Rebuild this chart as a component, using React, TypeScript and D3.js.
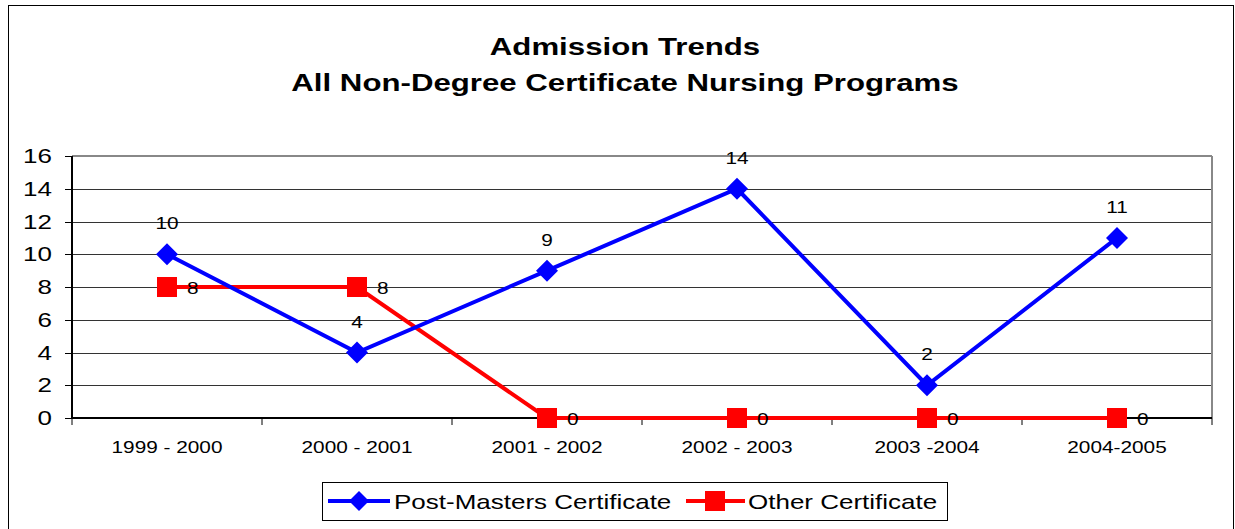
import React from 'react';
import * as d3 from 'd3';

const categories = ['1999 - 2000', '2000 - 2001', '2001 - 2002', '2002 - 2003', '2003 -2004', '2004-2005'];
const postMasters = [10, 4, 9, 14, 2, 11];
const otherCert = [8, 8, 0, 0, 0, 0];
const yTicks = [0, 2, 4, 6, 8, 10, 12, 14, 16];

const W = 1235;
const H = 529;
const plot = { left: 72, right: 1212, top: 156, bottom: 418 };
const font = 'Liberation Sans, Arial, sans-serif';
const stretch = 1.3; // the source text is drawn wide

const x = d3.scaleBand<string>().domain(categories).range([plot.left, plot.right]);
const y = d3.scaleLinear().domain([0, 16]).range([plot.bottom, plot.top]);
const cx = (c: string) => (x(c) as number) + x.bandwidth() / 2;

const line = d3.line<number>()
  .x((d, i) => cx(categories[i]))
  .y(d => y(d));

const diamond = (px: number, py: number, r: number) =>
  `M${px},${py - r}L${px + r},${py}L${px},${py + r}L${px - r},${py}Z`;

// wide text
function T(props: { x: number; y: number; size: number; anchor?: string; bold?: boolean; children: any }) {
  return (
    <text
      transform={`translate(${props.x},${props.y}) scale(${stretch},1)`}
      textAnchor={props.anchor || 'start'}
      fontSize={props.size}
      fontWeight={props.bold ? 'bold' : 'normal'}
    >
      {props.children}
    </text>
  );
}

export default function App() {
  return (
    <svg width={W} height={H} style={{ position: 'absolute', left: 0, top: 0 }} fontFamily={font}>
      <rect x={0} y={0} width={W} height={H} fill="#fff" />
      <rect x={8.5} y={5.5} width={1225} height={H} fill="none" stroke="#000" strokeWidth={1} />

      <T x={625} y={55} size={24} anchor="middle" bold>Admission Trends</T>
      <T x={625} y={91} size={24} anchor="middle" bold>All Non-Degree Certificate Nursing Programs</T>

      {/* grid */}
      {yTicks.map(t => (
        <g key={t}>
          {t > 0 && t < 16 && (
            <line x1={plot.left} x2={plot.right} y1={Math.round(y(t)) + 0.5} y2={Math.round(y(t)) + 0.5} stroke="#333" />
          )}
          <line x1={plot.left - 7} x2={plot.left} y1={Math.round(y(t)) + 0.5} y2={Math.round(y(t)) + 0.5} stroke="#000" />
          <T x={52} y={y(t) + 7} size={20} anchor="end">{t}</T>
        </g>
      ))}
      <line x1={plot.left} x2={plot.right} y1={plot.top} y2={plot.top} stroke="#888" strokeWidth={2} />
      <line x1={plot.right} x2={plot.right} y1={plot.top} y2={plot.bottom} stroke="#888" strokeWidth={2} />
      <line x1={plot.left} x2={plot.left} y1={plot.top} y2={plot.bottom} stroke="#000" strokeWidth={2} />
      <line x1={plot.left} x2={plot.right} y1={plot.bottom} y2={plot.bottom} stroke="#000" strokeWidth={2} />

      {/* x ticks */}
      {categories.concat(['end']).map((c, i) => {
        const px = i < categories.length ? (x(c) as number) : plot.right;
        return <line key={c} x1={px} x2={px} y1={plot.bottom} y2={plot.bottom + 7} stroke="#000" />;
      })}
      {categories.map(c => (
        <T key={c} x={cx(c)} y={453} size={16} anchor="middle">{c}</T>
      ))}

      {/* series */}
      <path d={line(otherCert) as string} fill="none" stroke="#ff0000" strokeWidth={4} />
      <path d={line(postMasters) as string} fill="none" stroke="#0000ff" strokeWidth={4} />
      {otherCert.map((v, i) => (
        <g key={'o' + i}>
          <rect x={cx(categories[i]) - 10} y={y(v) - 10} width={20} height={20} fill="#ff0000" />
          <T x={cx(categories[i]) + 20} y={y(v) + 7} size={16}>{v}</T>
        </g>
      ))}
      {postMasters.map((v, i) => (
        <g key={'p' + i}>
          <path d={diamond(cx(categories[i]), y(v), 11)} fill="#0000ff" />
          <T x={cx(categories[i])} y={y(v) - 25} size={16} anchor="middle">{v}</T>
        </g>
      ))}

      {/* legend */}
      <rect x={322.5} y={482.5} width={625} height={38} fill="#fff" stroke="#000" />
      <line x1={328} x2={390} y1={501} y2={501} stroke="#0000ff" strokeWidth={4} />
      <path d={diamond(359, 501, 10)} fill="#0000ff" />
      <T x={394} y={509} size={20}>Post-Masters Certificate</T>
      <line x1={686} x2={745} y1={501} y2={501} stroke="#ff0000" strokeWidth={4} />
      <rect x={705} y={491} width={20} height={20} fill="#ff0000" />
      <T x={748} y={509} size={20}>Other Certificate</T>
    </svg>
  );
}
